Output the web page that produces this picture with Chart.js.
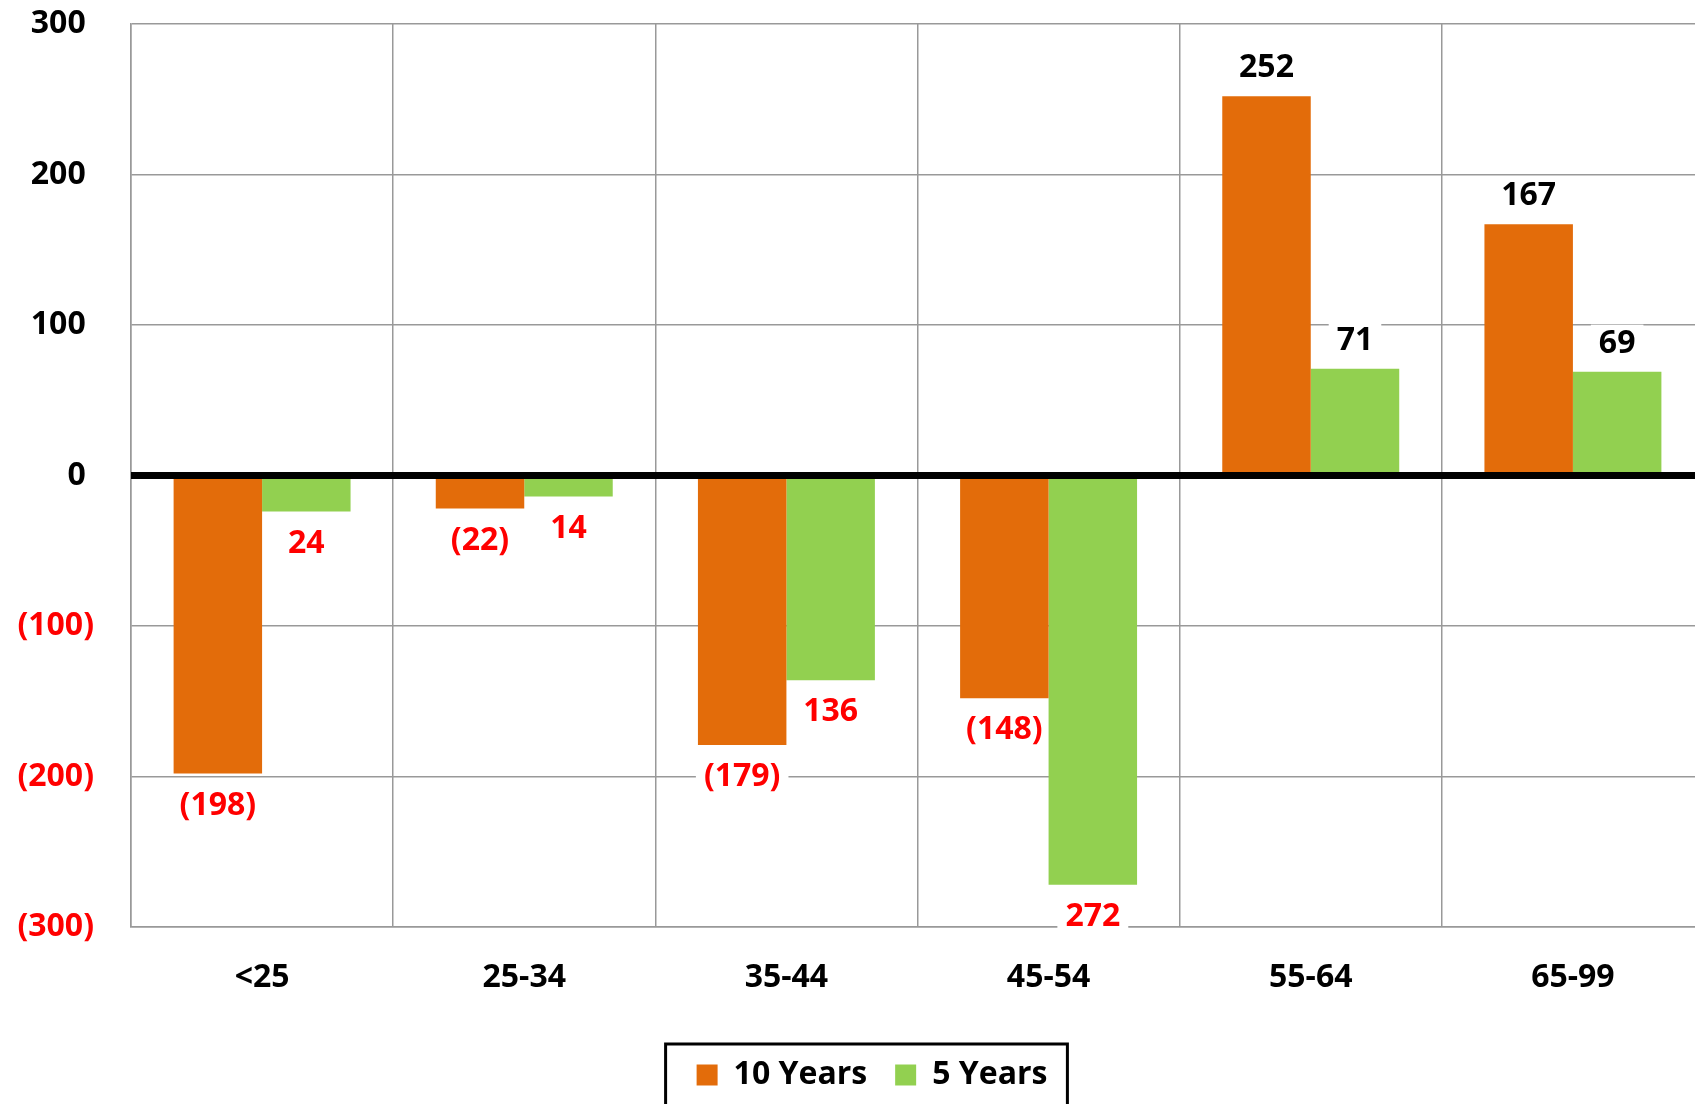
<!DOCTYPE html>
<html>
<head>
<meta charset="utf-8">
<script src="https://cdn.jsdelivr.net/npm/chart.js@4/dist/chart.umd.min.js"></script>
<style>
  html, body { margin: 0; padding: 0; background: #fff; overflow: hidden; }
  canvas { display: block; }
</style>
</head>
<body>
<canvas id="chart" width="1704" height="1104"></canvas>
<script>
let ageGroups = ['<25', '25-34', '35-44', '45-54', '55-64', '65-99']
let tenYears = [-198, -22, -179, -148, 252, 167]
let fiveYears = [-24, -14, -136, -272, 71, 69]
let yTicks = [-300, -200, -100, 0, 100, 200, 300]
let seriesNames = ['10 Years', '5 Years']
let seriesColors = ['#E36C0A', '#92D050']

const FONT = "'Open Sans'"
const WEIGHT = 'bold'
const SIZE = 32
const RED = '#FF0000'
const GRID = '#999999'

function fmt(v) {
    // accounting style: negatives in brackets, positives padded on the right
    return v < 0 ? '(' + Math.abs(v) + ')' : v + ' '
}

function labelText(v, di) {
    if (v >= 0) return String(v)
    // the 10 year series shows brackets, the 5 year one just the number
    return di === 0 ? '(' + Math.abs(v) + ')' : String(Math.abs(v))
}

function labelY(bar, v) {
    return v >= 0 ? bar.y - 29 : bar.y + 31
}

// thick black line at zero, drawn over the bars
const zeroLine = {
    id: 'zeroLine',
    afterDatasetsDraw(chart) {
        let ctx = chart.ctx
        let area = chart.chartArea
        let y = chart.scales.y.getPixelForValue(0)
        ctx.save()
        ctx.strokeStyle = '#000'
        ctx.lineWidth = 7
        ctx.beginPath()
        ctx.moveTo(area.left, y)
        ctx.lineTo(area.right, y)
        ctx.stroke()
        ctx.restore()
    }
}

// value labels: white boxes go under the bars (they only hide grid lines),
// the text goes on top
const barLabels = {
    id: 'barLabels',
    beforeDatasetsDraw(chart) {
        let ctx = chart.ctx
        ctx.save()
        ctx.font = WEIGHT + ' ' + SIZE + 'px ' + FONT
        ctx.fillStyle = '#fff'
        chart.data.datasets.forEach((ds, di) => {
            chart.getDatasetMeta(di).data.forEach((bar, i) => {
                let v = ds.data[i]
                let w = ctx.measureText(labelText(v, di)).width + 16
                let y = labelY(bar, v)
                ctx.fillRect(bar.x - w / 2, y - 18, w, 36)
            })
        })
        ctx.restore()
    },
    afterDatasetsDraw(chart) {
        let ctx = chart.ctx
        ctx.save()
        ctx.font = WEIGHT + ' ' + SIZE + 'px ' + FONT
        ctx.textAlign = 'center'
        ctx.textBaseline = 'middle'
        chart.data.datasets.forEach((ds, di) => {
            chart.getDatasetMeta(di).data.forEach((bar, i) => {
                let v = ds.data[i]
                ctx.fillStyle = v >= 0 ? '#000' : RED
                ctx.fillText(labelText(v, di), bar.x, labelY(bar, v) + 1)
            })
        })
        ctx.restore()
    }
}

// nudge the legend right so it sits under the plot like the original
const legendShift = {
    id: 'legendShift',
    afterLayout(chart) {
        chart.legend.left += 20
        chart.legend.right += 20
    }
}

// black frame round the legend items
const legendFrame = {
    id: 'legendFrame',
    afterDraw(chart) {
        let boxes = chart.legend.legendHitBoxes
        if (!boxes || !boxes.length) return
        let first = boxes[0]
        let last = boxes[boxes.length - 1]
        let ctx = chart.ctx
        ctx.save()
        ctx.strokeStyle = '#000'
        ctx.lineWidth = 3
        let left = first.left - 31
        let right = last.left + last.width + 20
        let top = first.top - 15
        let bottom = first.top + first.height + 16
        ctx.strokeRect(left, top, right - left, bottom - top)
        ctx.restore()
    }
}

let ctx = document.getElementById('chart')
let chart = new Chart(ctx, {
    type: 'bar',
    data: {
        labels: ageGroups,
        datasets: [
            { label: seriesNames[0], data: tenYears, backgroundColor: seriesColors[0], borderWidth: 0 },
            { label: seriesNames[1], data: fiveYears, backgroundColor: seriesColors[1], borderWidth: 0 }
        ]
    },
    options: {
        responsive: false,
        animation: false,
        devicePixelRatio: 1,
        layout: { padding: { top: 0, left: 0, right: 0, bottom: 3 } },
        datasets: {
            bar: { categoryPercentage: 0.675, barPercentage: 1 }
        },
        scales: {
            x: {
                grid: { color: GRID, lineWidth: 1.5, drawTicks: false, offset: true },
                border: { color: GRID, width: 1.5 },
                ticks: {
                    color: '#000',
                    padding: 32,
                    font: { family: FONT, size: SIZE, weight: WEIGHT }
                },
                afterFit(scale) { scale.height = 104 }
            },
            y: {
                min: yTicks[0],
                max: yTicks[yTicks.length - 1],
                grid: { color: GRID, lineWidth: 1.5, drawTicks: false },
                border: { color: GRID, width: 1.5 },
                ticks: {
                    stepSize: yTicks[1] - yTicks[0],
                    padding: 37,
                    callback: (v) => fmt(v),
                    color: (c) => c.tick.value < 0 ? RED : '#000',
                    font: { family: FONT, size: SIZE, weight: WEIGHT }
                },
                afterFit(scale) {
                    scale.width = 131
                    scale.paddingTop = 24
                    scale.paddingBottom = 10
                }
            }
        },
        plugins: {
            tooltip: { enabled: false },
            legend: {
                position: 'bottom',
                labels: {
                    color: '#000',
                    boxWidth: 21,
                    boxHeight: 21,
                    padding: 28,
                    font: { family: FONT, size: SIZE, weight: WEIGHT }
                }
            }
        }
    },
    plugins: [zeroLine, barLabels, legendShift, legendFrame]
})
</script>
</body>
</html>
